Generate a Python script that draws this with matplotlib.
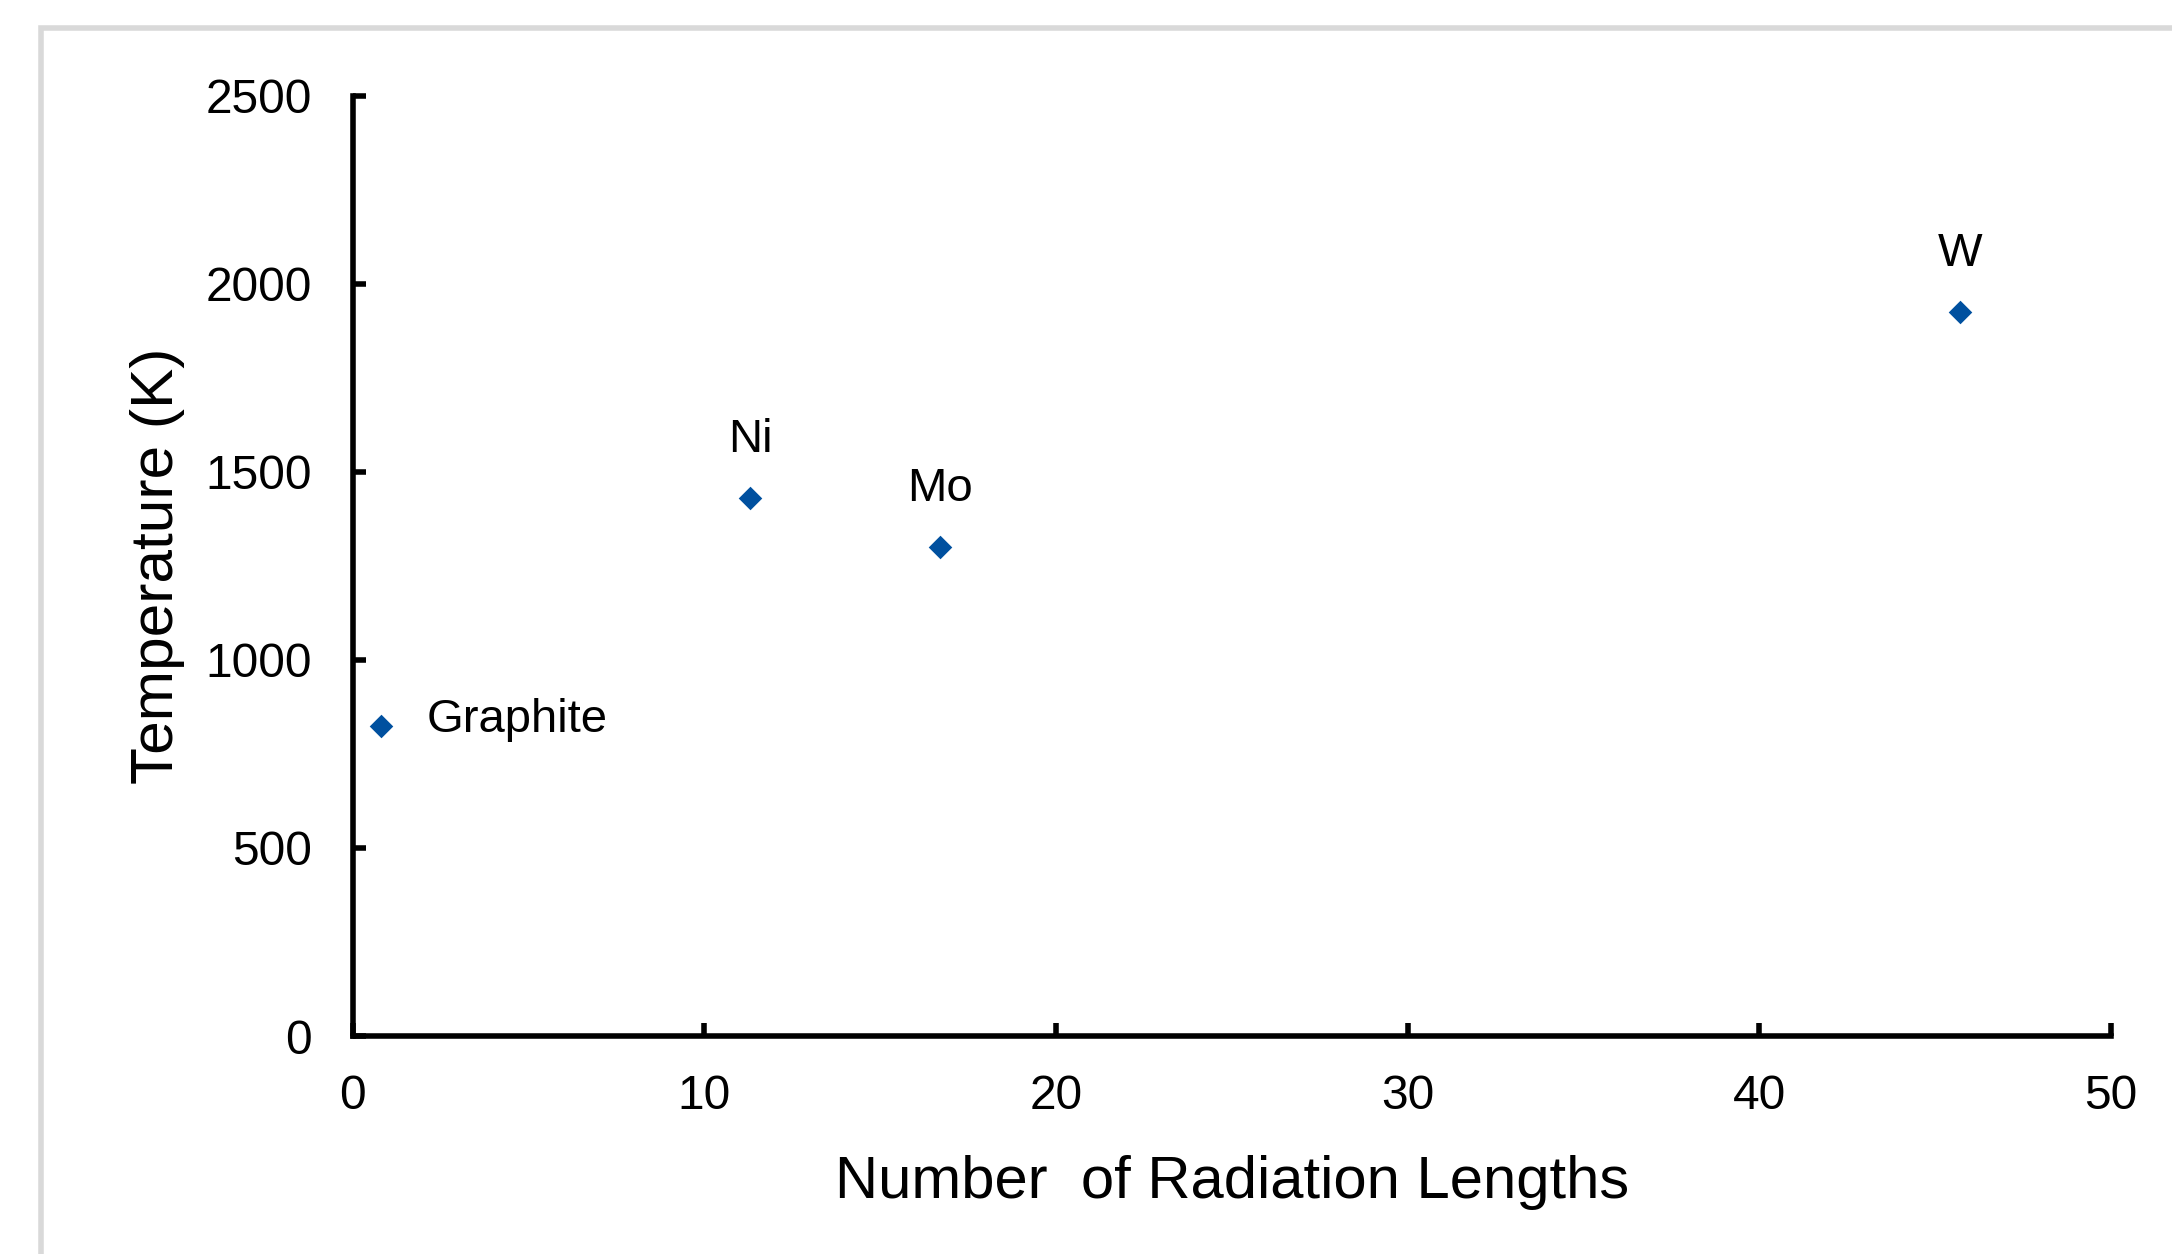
from matplotlib import pyplot as plt
from matplotlib.patches import Rectangle

materials = ['Graphite', 'Ni', 'Mo', 'W']
rad_lengths = [0.8, 11.3, 16.7, 45.7]
temperatures = [825, 1430, 1300, 1925]

plt.rcParams['font.family'] = ['Liberation Sans', 'DejaVu Sans']

fig = plt.figure(figsize=(21.72, 12.54), dpi=100)
ax = fig.add_axes([0.1623, 0.1738, 0.9719 - 0.1623, 0.9238 - 0.1738])

# light grey frame of the chart area (cut off at right and bottom)
fig.patches.append(Rectangle((40.5 / 2172, -0.1), 1.2, 1 - 28 / 1254 + 0.1,
                             transform=fig.transFigure, fill=False,
                             edgecolor='#d9d9d9', linewidth=4, zorder=0))

ax.scatter(rad_lengths, temperatures, marker='D', s=12 ** 2,
           color='#00509F', linewidths=0, zorder=3, clip_on=False)

for name, x, y in zip(materials, rad_lengths, temperatures):
    if name == 'Graphite':
        ax.annotate(name, (x, y), xytext=(33, 4), textcoords='offset points',
                    ha='left', va='center', fontsize=34)
    else:
        ax.annotate(name, (x, y), xytext=(0, 42), textcoords='offset points',
                    ha='center', va='center', fontsize=34)

ax.set_xlim(0, 50)
ax.set_ylim(0, 2500)
ax.set_xticks(range(0, 51, 10))
ax.set_yticks(range(0, 2501, 500))

for side in ['top', 'right']:
    ax.spines[side].set_visible(False)
for side in ['left', 'bottom']:
    ax.spines[side].set_linewidth(4)
    ax.spines[side].set_color('black')

ax.tick_params(axis='both', direction='in', length=9.5, width=4, labelsize=34.5)
ax.tick_params(axis='y', pad=29)
ax.tick_params(axis='x', pad=27)

ax.set_xlabel('Number  of Radiation Lengths', fontsize=43, labelpad=26)
ax.set_ylabel('Temperature (K)', fontsize=43.5, labelpad=15)

fig.savefig('out.png', dpi=100)
